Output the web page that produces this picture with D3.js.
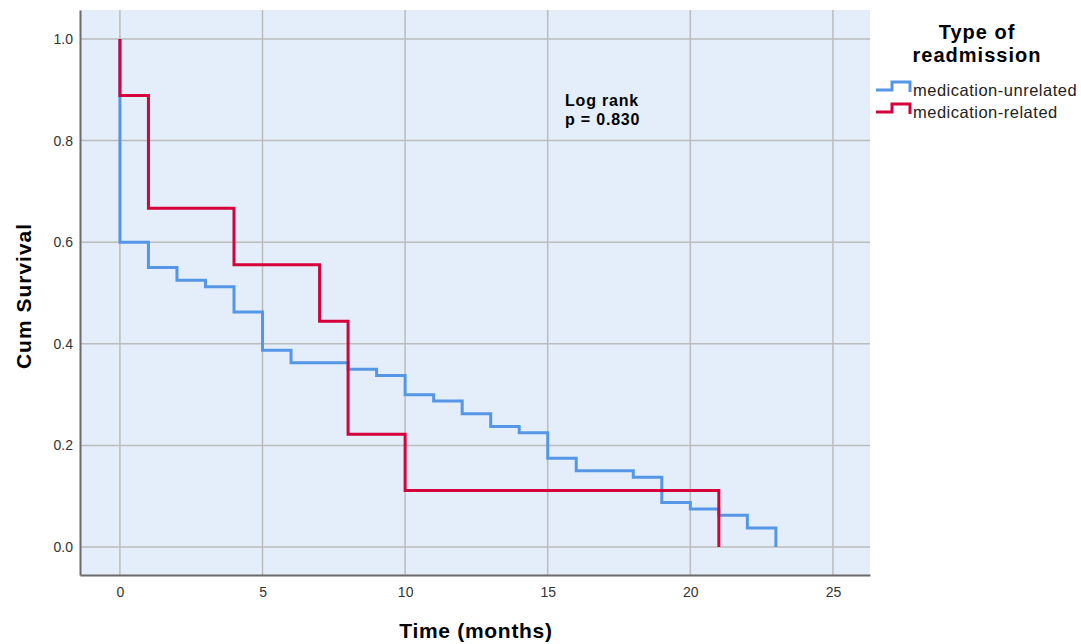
<!DOCTYPE html>
<html>
<head>
<meta charset="utf-8">
<script src="https://cdn.jsdelivr.net/npm/d3@7"></script>
<style>
  body { margin: 0; background: #fff; }
  svg { font-family: "Liberation Sans", Arial, sans-serif; }
</style>
</head>
<body>
<svg id="chart" width="1081" height="644"></svg>
<script>
// Kaplan-Meier estimates
const unrelatedTimes = [0, 0, 1, 2, 3, 4, 5, 6, 8, 9, 10, 11, 12, 13, 14, 15, 16, 18, 19, 20, 21, 22, 23]
const unrelatedSurv = [1, 0.6, 0.55, 0.525, 0.5125, 0.4625, 0.3875, 0.3625, 0.35, 0.3375, 0.3, 0.2875, 0.2625, 0.2375, 0.225, 0.175, 0.15, 0.1375, 0.0875, 0.075, 0.0625, 0.0375, 0]
const relatedTimes = [0, 0, 1, 4, 7, 8, 10, 21]
const relatedSurv = [1, 0.8889, 0.6667, 0.5556, 0.4444, 0.2222, 0.1111, 0]

const xTicks = [0, 5, 10, 15, 20, 25]
const yTicks = [0, 0.2, 0.4, 0.6, 0.8, 1.0]
const seriesNames = ['medication-unrelated', 'medication-related']
const seriesColors = ['#5596e6', '#d6003b']

const plot = { left: 80, right: 870, top: 10, bottom: 575 }

const svg = d3.select('#chart')

const x = d3.scaleLinear().domain([-1.4, 26.3]).range([plot.left, plot.right])
const y = d3.scaleLinear().domain([-0.055, 1.057]).range([plot.bottom, plot.top])

svg.append('rect')
  .attr('x', plot.left).attr('y', plot.top)
  .attr('width', plot.right - plot.left).attr('height', plot.bottom - plot.top)
  .style('fill', '#e3eefa')

// grid
svg.append('g').selectAll('line')
  .data(xTicks).enter().append('line')
  .attr('x1', d => x(d)).attr('x2', d => x(d))
  .attr('y1', plot.top).attr('y2', plot.bottom)
  .style('stroke', '#bcbcbc').style('stroke-width', 1.5)

svg.append('g').selectAll('line')
  .data(yTicks).enter().append('line')
  .attr('x1', plot.left).attr('x2', plot.right)
  .attr('y1', d => y(d)).attr('y2', d => y(d))
  .style('stroke', '#bcbcbc').style('stroke-width', 1.5)

// axes
const xAxis = svg.append('g')
  .attr('transform', `translate(0,${plot.bottom})`)
  .call(d3.axisBottom(x).tickValues(xTicks).tickSize(0).tickPadding(12).tickFormat(d3.format('d')))
const yAxis = svg.append('g')
  .attr('transform', `translate(${plot.left},0)`)
  .call(d3.axisLeft(y).tickValues(yTicks).tickSize(0).tickPadding(7).tickFormat(d3.format('.1f')))

;[xAxis, yAxis].forEach(a => {
  a.select('.domain').style('stroke', '#6b6b6b').style('stroke-width', 2)
  a.selectAll('text').style('font-size', '14px').style('fill', '#333')
    .style('font-family', '"Liberation Sans", Arial, sans-serif')
})

// curves
const line = d3.line()
  .x(d => x(d[0]))
  .y(d => y(d[1]))
  .curve(d3.curveStepAfter)

const series = [
  d3.zip(unrelatedTimes, unrelatedSurv),
  d3.zip(relatedTimes, relatedSurv)
]

svg.append('g').selectAll('path')
  .data(series).enter().append('path')
  .attr('d', d => line(d))
  .style('fill', 'none')
  .style('stroke', (d, i) => seriesColors[i])
  .style('stroke-width', 3)

// axis titles
svg.append('text')
  .attr('x', 476).attr('y', 638)
  .attr('text-anchor', 'middle')
  .style('font-size', '21px').style('font-weight', 'bold').style('letter-spacing', '0.7px')
  .text('Time (months)')

svg.append('text')
  .attr('transform', 'translate(31,296) rotate(-90)')
  .attr('text-anchor', 'middle')
  .style('font-size', '21px').style('font-weight', 'bold').style('letter-spacing', '1px')
  .text('Cum Survival')

// log rank annotation
svg.append('text')
  .attr('x', 565).attr('y', 106)
  .style('font-size', '16px').style('font-weight', 'bold').style('letter-spacing', '0.8px')
  .text('Log rank')
svg.append('text')
  .attr('x', 565).attr('y', 125)
  .style('font-size', '16px').style('font-weight', 'bold').style('letter-spacing', '0.8px')
  .text('p = 0.830')

// legend
const legend = svg.append('g')
legend.append('text')
  .attr('x', 977).attr('y', 39)
  .attr('text-anchor', 'middle')
  .style('font-size', '20px').style('font-weight', 'bold').style('letter-spacing', '1px')
  .text('Type of')
legend.append('text')
  .attr('x', 977).attr('y', 62)
  .attr('text-anchor', 'middle')
  .style('font-size', '20px').style('font-weight', 'bold').style('letter-spacing', '1px')
  .text('readmission')

const item = legend.selectAll('.item')
  .data(seriesNames).enter().append('g')
  .attr('class', 'item')
  .attr('transform', (d, i) => `translate(876,${90 + i * 22})`)

item.append('path')
  .attr('d', 'M0,0 H16 V-8 H34 V2')
  .style('fill', 'none')
  .style('stroke', (d, i) => seriesColors[i])
  .style('stroke-width', 3)

item.append('text')
  .attr('x', 37).attr('y', 6)
  .style('font-size', '16.5px').style('fill', '#222').style('letter-spacing', '0.5px')
  .text(d => d)
</script>
</body>
</html>
